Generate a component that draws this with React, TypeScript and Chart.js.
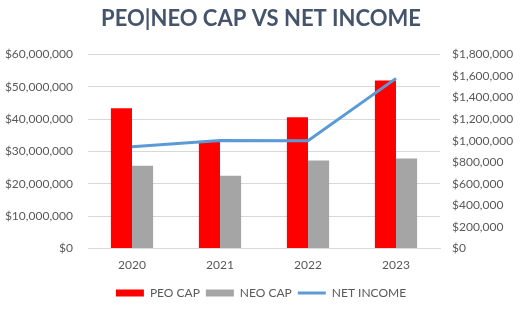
import React, { useEffect, useRef } from "react";
import { Chart, registerables } from "chart.js";

Chart.register(...registerables);

const years = ["2020", "2021", "2022", "2023"];
const peoCap = [43400000, 33100000, 40600000, 51900000];
const neoCap = [25600000, 22500000, 27200000, 27800000];
const netIncome = [944000, 1003000, 1000000, 1578000];

const FONT = "Lato, 'Open Sans', sans-serif";
const money = (v: number) => "$" + Number(v).toLocaleString("en-US");

export default function App() {
  const ref = useRef<HTMLCanvasElement>(null);
  useEffect(() => {
    if (!ref.current) return;
    const chart = new Chart(ref.current, {
      type: "bar",
      data: {
        labels: years,
        datasets: [
          {
            type: "line",
            label: "NET INCOME",
            data: netIncome,
            yAxisID: "y1",
            borderColor: "#5B9BD5",
            backgroundColor: "#5B9BD5",
            borderWidth: 3,
            pointRadius: 0,
            tension: 0,
            order: 0,
          },
          {
            type: "bar",
            label: "PEO CAP",
            data: peoCap,
            yAxisID: "y",
            backgroundColor: "#FF0000",
            categoryPercentage: 0.48,
            barPercentage: 1,
            order: 1,
          },
          {
            type: "bar",
            label: "NEO CAP",
            data: neoCap,
            yAxisID: "y",
            backgroundColor: "#A5A5A5",
            categoryPercentage: 0.48,
            barPercentage: 1,
            order: 1,
          },
        ] as any,
      },
      options: {
        animation: false,
        responsive: false,
        maintainAspectRatio: false,
        layout: { padding: { left: 0, right: 0, top: 0, bottom: 16 } },
        plugins: {
          title: {
            display: true,
            text: "PEO|NEO CAP VS NET INCOME",
            color: "#44546A",
            font: { family: FONT, size: 22, weight: "bold" },
            padding: { top: 6, bottom: 22 },
          },
          legend: {
            position: "bottom",
            labels: {
              color: "#595959",
              font: { family: FONT, size: 12 },
              usePointStyle: true,
              pointStyleWidth: 28,
              boxWidth: 28,
              boxHeight: 7,
              padding: 6,
              sort: (a: any, b: any) => {
                const ord: Record<string, number> = { "PEO CAP": 0, "NEO CAP": 1, "NET INCOME": 2 };
                return ord[a.text] - ord[b.text];
              },
              generateLabels: (c: any) => {
                const base = (Chart.defaults.plugins.legend.labels as any).generateLabels(c);
                return base.map((l: any) => {
                  if (l.text === "NET INCOME") {
                    return { ...l, pointStyle: "line", lineWidth: 3, strokeStyle: "#5B9BD5" };
                  }
                  return { ...l, pointStyle: "rect", lineWidth: 0 };
                });
              },
            },
          },
          tooltip: { enabled: false },
        },
        scales: {
          x: {
            grid: { display: false, drawTicks: false },
            border: { display: true, color: "#D9D9D9" },
            ticks: { color: "#595959", font: { family: FONT, size: 12 }, padding: 9 },
          },
          y: {
            position: "left",
            min: 0,
            max: 60000000,
            ticks: {
              stepSize: 10000000,
              color: "#595959",
              font: { family: FONT, size: 12 },
              padding: 15,
              callback: (v: any) => money(v),
            },
            grid: { color: "#D9D9D9", drawTicks: false },
            border: { display: false },
            afterFit: (s: any) => {
              s.width = 88;
            },
          },
          y1: {
            position: "right",
            min: 0,
            max: 1800000,
            ticks: {
              stepSize: 200000,
              color: "#595959",
              font: { family: FONT, size: 12 },
              padding: 12,
              callback: (v: any) => money(v),
            },
            grid: { drawOnChartArea: false, drawTicks: false },
            border: { display: false },
            afterFit: (s: any) => {
              s.width = 82;
            },
          },
        },
      } as any,
    });
    return () => chart.destroy();
  }, []);
  return (
    <div style={{ position: "absolute", left: 0, top: 0, width: 522, height: 325, background: "#fff" }}>
      <canvas ref={ref} width={522} height={325} style={{ width: 522, height: 325 }} />
    </div>
  );
}
